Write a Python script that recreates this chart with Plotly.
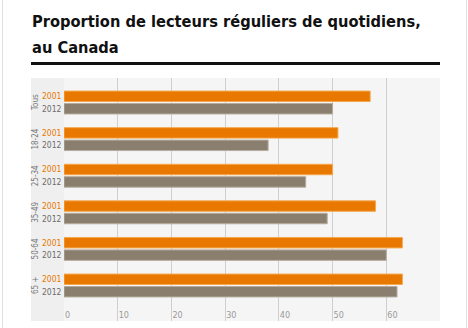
import plotly.graph_objects as go

categories = ["Tous", "18-24", "25-34", "35-49", "50-64", "65 +"]
years = ["2001", "2012"]
values_2001 = [57, 51, 50, 58, 63, 63]
values_2012 = [50, 38, 45, 49, 60, 62]
tick_values = [0, 10, 20, 30, 40, 50, 60]

ORANGE = "#E87800"
GRAY = "#8A7E6E"
FONT = "DejaVu Sans Condensed, Roboto Condensed, Liberation Sans Narrow, sans-serif"

W, H = 468, 328
L, R, T, B = 64, 28, 78, 7
pw, ph = W - L - R, H - T - B

def px_x(p):
    return (p - L) / pw

def px_y(p):
    return (H - B - p) / ph

fig = go.Figure()
fig.add_trace(go.Bar(y=categories, x=values_2001, orientation="h", name=years[0],
                     marker=dict(color=ORANGE, line=dict(color="#F5A850", width=1))))
fig.add_trace(go.Bar(y=categories, x=values_2012, orientation="h", name=years[1],
                     marker=dict(color=GRAY, line=dict(color="#B5AC9F", width=1))))

annotations = [
    dict(x=px_x(30), y=px_y(21), xref="paper", yref="paper", showarrow=False,
         text="<b>Proportion de lecteurs réguliers de quotidiens,</b>",
         xanchor="left", yanchor="middle",
         font=dict(family=FONT, size=16.3, color="#111111")),
    dict(x=px_x(30), y=px_y(47), xref="paper", yref="paper", showarrow=False,
         text="<b>au Canada</b>",
         xanchor="left", yanchor="middle",
         font=dict(family=FONT, size=16.3, color="#111111")),
]
for c in categories:
    annotations.append(dict(x=0, y=c, xref="x", yref="y", text=years[0], showarrow=False,
                            xanchor="right", xshift=0, yshift=6.3,
                            font=dict(family=FONT, size=8.5, color=ORANGE)))
    annotations.append(dict(x=0, y=c, xref="x", yref="y", text=years[1], showarrow=False,
                            xanchor="right", xshift=0, yshift=-6.3,
                            font=dict(family=FONT, size=8.5, color="#6b6b6b")))
    annotations.append(dict(x=px_x(35.5), y=c, xref="paper", yref="y", text=c, showarrow=False,
                            textangle=-90, xanchor="center", yanchor="middle",
                            font=dict(family=FONT, size=8, color="#7a7a7a")))

shapes = [
    dict(type="rect", xref="paper", yref="paper", x0=px_x(31), x1=0, y0=0, y1=1,
         fillcolor="#efefef", line=dict(width=0), layer="below"),
    dict(type="line", xref="paper", yref="paper", x0=px_x(31), x1=px_x(440),
         y0=px_y(63.5), y1=px_y(63.5), line=dict(color="#111111", width=3)),
    dict(type="line", xref="paper", yref="paper", x0=px_x(2.5), x1=px_x(2.5),
         y0=px_y(0), y1=px_y(328), line=dict(color="#e0e0e0", width=1)),
    dict(type="line", xref="paper", yref="paper", x0=px_x(466.5), x1=px_x(466.5),
         y0=px_y(0), y1=px_y(328), line=dict(color="#e0e0e0", width=1)),
]

fig.update_layout(
    width=W, height=H,
    margin=dict(l=L, r=R, t=T, b=B),
    paper_bgcolor="white",
    plot_bgcolor="#f5f5f5",
    barmode="group",
    bargap=0.32,
    bargroupgap=0.16,
    showlegend=False,
    xaxis=dict(range=[0, 70], tickvals=tick_values, showgrid=True, gridcolor="#cfcfcf",
               gridwidth=1, zeroline=False, showline=False, ticks="",
               ticklabelposition="inside right", ticklabelshift=1, ticklabelstandoff=-5,
               tickfont=dict(family=FONT, size=9, color="#9a9a9a")),
    yaxis=dict(range=[5.97, -0.67], autorange=False, showticklabels=False, showgrid=False,
               zeroline=False, ticks=""),
    annotations=annotations,
    shapes=shapes,
)

fig.write_html("out.html")
